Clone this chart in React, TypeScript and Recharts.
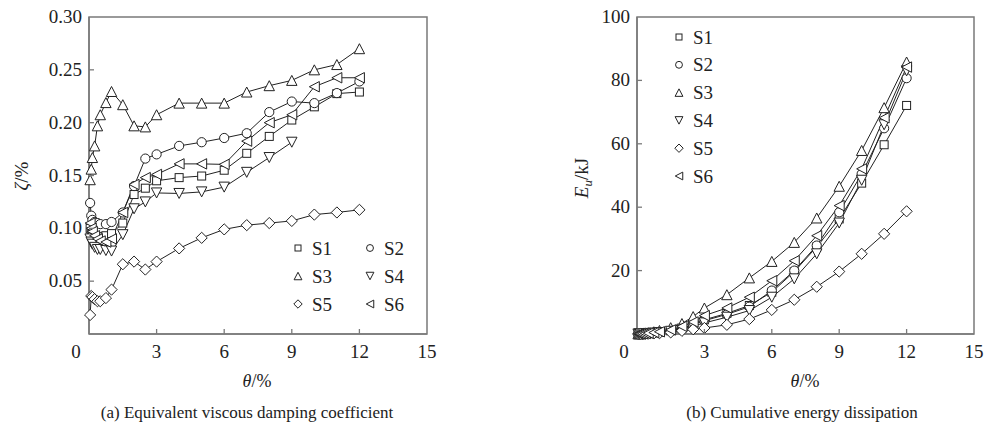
import React from "react";
import { LineChart, Line, XAxis, YAxis, ReferenceArea } from "recharts";

const theta = [0.05, 0.1, 0.15, 0.25, 0.375, 0.5, 0.75, 1, 1.5, 2, 2.5, 3, 4, 5, 6, 7, 8, 9, 10, 11, 12];
const seriesNames = ["S1", "S2", "S3", "S4", "S5", "S6"];
const xTicks = [0, 3, 6, 9, 12, 15];
const zetaTicks = [0.05, 0.1, 0.15, 0.2, 0.25, 0.3];
const energyTicks = [20, 40, 60, 80, 100];

// (a) equivalent viscous damping coefficient
const zetaS1 = [0.1, 0.097, 0.095, 0.093, 0.092, 0.092, 0.093, 0.095, 0.105, 0.132, 0.138, 0.145, 0.148, 0.1495, 0.155, 0.171, 0.187, 0.2025, 0.215, 0.2275, 0.229];
const zetaS2 = [0.124, 0.112, 0.108, 0.106, 0.105, 0.104, 0.104, 0.106, 0.115, 0.14, 0.166, 0.17, 0.178, 0.1815, 0.1855, 0.19, 0.21, 0.22, 0.2185, 0.228, 0.239];
const zetaS3 = [0.146, 0.156, 0.167, 0.178, 0.197, 0.2075, 0.219, 0.2295, 0.217, 0.197, 0.196, 0.2075, 0.2185, 0.2185, 0.2185, 0.229, 0.235, 0.24, 0.25, 0.255, 0.27];
const zetaS4 = [0.09, 0.087, 0.085, 0.082, 0.08, 0.08, 0.079, 0.0785, 0.094, 0.1185, 0.125, 0.1335, 0.133, 0.1345, 0.139, 0.153, 0.167, 0.1815, null, null, null];
const zetaS5 = [0.018, 0.036, 0.035, 0.033, 0.031, 0.031, 0.034, 0.042, 0.066, 0.0685, 0.061, 0.0685, 0.081, 0.091, 0.099, 0.103, 0.105, 0.107, 0.113, 0.115, 0.1175];
const zetaS6 = [0.105, 0.1, 0.097, 0.093, 0.09, 0.088, 0.087, 0.09, 0.115, 0.1415, 0.148, 0.151, 0.161, 0.161, 0.1605, 0.1825, 0.2, 0.2075, 0.234, 0.2425, 0.2425];

// (b) cumulative energy dissipation (kJ)
const energyS1 = [0.02, 0.04, 0.06, 0.1, 0.15, 0.2, 0.35, 0.55, 1.0, 1.8, 3.0, 4.5, 6.5, 9.0, 13.2, 19.7, 27.5, 36.3, 47.6, 59.7, 72.1];
const energyS2 = [0.02, 0.04, 0.07, 0.12, 0.17, 0.25, 0.4, 0.6, 1.1, 1.9, 3.0, 4.2, 6.2, 8.6, 13.7, 20.0, 27.9, 38.4, 50.5, 64.9, 80.7];
const energyS3 = [0.03, 0.06, 0.1, 0.17, 0.25, 0.4, 0.7, 1.1, 2.0, 3.3, 5.5, 8.2, 12.4, 17.7, 22.9, 28.9, 36.6, 46.6, 57.9, 71.4, 85.8];
const energyS4 = [0.02, 0.03, 0.05, 0.09, 0.13, 0.18, 0.3, 0.45, 0.85, 1.5, 2.5, 3.5, 5.3, 7.4, 11.6, 17.4, 25.3, 35.0, 48.5, 66.0, 83.0];
const energyS5 = [0.01, 0.02, 0.03, 0.05, 0.07, 0.1, 0.17, 0.25, 0.5, 1.0, 1.5, 1.9, 2.9, 4.7, 7.6, 10.8, 14.9, 19.7, 25.3, 31.6, 38.7];
const energyS6 = [0.02, 0.04, 0.07, 0.12, 0.18, 0.27, 0.45, 0.7, 1.3, 2.4, 3.8, 5.8, 8.2, 11.6, 16.8, 23.1, 31.0, 40.5, 52.1, 68.2, 84.2];

const zetaSeries = [zetaS1, zetaS2, zetaS3, zetaS4, zetaS5, zetaS6];
const energySeries = [energyS1, energyS2, energyS3, energyS4, energyS5, energyS6];

const buildRows = (series: (number | null)[][]) =>
  theta.map((t, i) => {
    const row: Record<string, number | null> = { theta: t };
    seriesNames.forEach((n, k) => {
      row[n] = series[k][i];
    });
    return row;
  });

const zetaRows = buildRows(zetaSeries);
const energyRows = buildRows(energySeries);

const FONT = "Liberation Serif";
const INK = "#222";
const AXIS = "#7a7a7a";
const shapes = ["square", "circle", "up", "down", "diamond", "left"];
const fs = (size: number, extra: Record<string, any> = {}) => ({ fontFamily: FONT, fontSize: size, ...extra });

function Marker({ kind, cx, cy, s = 1 }: { kind: string; cx: number; cy: number; s?: number }) {
  const common = { fill: "#fff", stroke: INK, strokeWidth: 1 };
  if (kind === "square") {
    const h = 4 * s;
    return <rect x={cx - h} y={cy - h} width={2 * h} height={2 * h} {...common} />;
  }
  if (kind === "circle") return <circle cx={cx} cy={cy} r={4.6 * s} {...common} />;
  if (kind === "up") {
    const w = 5.2 * s, h = 5 * s;
    return <polygon points={`${cx},${cy - h} ${cx + w},${cy + h} ${cx - w},${cy + h}`} {...common} />;
  }
  if (kind === "down") {
    const w = 5.2 * s, h = 5 * s;
    return <polygon points={`${cx},${cy + h} ${cx + w},${cy - h} ${cx - w},${cy - h}`} {...common} />;
  }
  if (kind === "diamond") {
    const h = 5.6 * s;
    return <polygon points={`${cx},${cy - h} ${cx + h},${cy} ${cx},${cy + h} ${cx - h},${cy}`} {...common} />;
  }
  const w = 5 * s, h = 5.2 * s;
  return <polygon points={`${cx - w},${cy} ${cx + w},${cy - h} ${cx + w},${cy + h}`} {...common} />;
}

const makeDot = (kind: string, name: string) => (p: any) => {
  if (p.cx == null || p.cy == null || p.value == null) return <g key={`${name}-${p.index}`} />;
  return (
    <g key={`${name}-${p.index}`}>
      <Marker kind={kind} cx={p.cx} cy={p.cy} />
    </g>
  );
};

const XTick = (p: any) => {
  const v = p.payload.value;
  const dx = v === 0 ? -13 : 0;
  return (
    <g>
      {v !== 0 && v !== 15 && <line x1={p.x} y1={p.y} x2={p.x} y2={p.y - 5} stroke={AXIS} strokeWidth={1.3} />}
      <text x={p.x + dx} y={p.y + 24} textAnchor="middle" fill={INK} style={fs(19)}>
        {v}
      </text>
    </g>
  );
};

const makeYTick = (fmt: (v: number) => string, top: number) => (p: any) => {
  const v = p.payload.value;
  return (
    <g>
      {v !== top && <line x1={p.x} y1={p.y} x2={p.x + 5} y2={p.y} stroke={AXIS} strokeWidth={1.3} />}
      <text x={p.x - 7} y={p.y + 6} textAnchor="end" fill={INK} style={fs(19)}>
        {fmt(v)}
      </text>
    </g>
  );
};

const ZetaTick = makeYTick((v) => v.toFixed(2), 0.3);
const EnergyTick = makeYTick((v) => String(v), 100);

function Panel({ rows, yMax, yTicks, yTick, yWidth, width, marginRight }: any) {
  return (
    <LineChart width={width} height={370} data={rows} margin={{ top: 17, right: marginRight, left: 0, bottom: 0 }}>
      <XAxis
        dataKey="theta"
        type="number"
        domain={[0, 15]}
        ticks={xTicks}
        height={36}
        tickSize={0}
        tickMargin={0}
        tick={XTick}
        tickLine={false}
        axisLine={{ stroke: AXIS, strokeWidth: 1.5 }}
        interval={0}
      />
      <YAxis
        type="number"
        domain={[0, yMax]}
        ticks={yTicks}
        width={yWidth}
        tickSize={0}
        tickMargin={0}
        tick={yTick}
        tickLine={false}
        axisLine={{ stroke: AXIS, strokeWidth: 1.5 }}
        interval={0}
      />
      <ReferenceArea x1={0} x2={15} y1={0} y2={yMax} fill="none" stroke={AXIS} strokeWidth={1.5} ifOverflow="visible" />
      {seriesNames.map((n, k) => (
        <Line
          key={n}
          dataKey={n}
          stroke={INK}
          strokeWidth={1}
          dot={makeDot(shapes[k], n)}
          activeDot={false}
          isAnimationActive={false}
          connectNulls={false}
        />
      ))}
    </LineChart>
  );
}

export default function App() {
  return (
    <div style={{ position: "fixed", left: 0, top: 0, width: 986, height: 430, background: "#fff", overflow: "hidden" }}>
      <div style={{ position: "absolute", left: 0, top: 0 }}>
        <Panel rows={zetaRows} yMax={0.3} yTicks={zetaTicks} yTick={ZetaTick} yWidth={89} width={440} marginRight={13} />
      </div>
      <div style={{ position: "absolute", left: 540, top: 0 }}>
        <Panel rows={energyRows} yMax={100} yTicks={energyTicks} yTick={EnergyTick} yWidth={97} width={446} marginRight={12} />
      </div>
      <svg width={986} height={430} style={{ position: "absolute", left: 0, top: 0, pointerEvents: "none" }}>
        {/* legend (a) */}
        {seriesNames.map((n, k) => {
          const col = k % 2;
          const row = Math.floor(k / 2);
          const mx = col === 0 ? 298 : 370;
          const my = 248 + row * 28;
          return (
            <g key={`la-${n}`}>
              <Marker kind={shapes[k]} cx={mx} cy={my} s={0.75} />
              <text x={mx + 14} y={my + 6.5} fill={INK} style={fs(19)}>
                {n}
              </text>
            </g>
          );
        })}
        {/* legend (b) */}
        {seriesNames.map((n, k) => {
          const mx = 679;
          const my = 37 + k * 27.8;
          return (
            <g key={`lb-${n}`}>
              <Marker kind={shapes[k]} cx={mx} cy={my} s={0.75} />
              <text x={mx + 14} y={my + 6.5} fill={INK} style={fs(19)}>
                {n}
              </text>
            </g>
          );
        })}
        {/* axis titles */}
        <text x={257} y={387} textAnchor="middle" fill={INK} style={fs(18)}>
          <tspan style={{ fontStyle: "italic" }}>θ</tspan>/%
        </text>
        <text x={805} y={387} textAnchor="middle" fill={INK} style={fs(18)}>
          <tspan style={{ fontStyle: "italic" }}>θ</tspan>/%
        </text>
        <text transform="translate(28,176) rotate(-90)" textAnchor="middle" fill={INK} style={fs(19)}>
          <tspan style={{ fontStyle: "italic" }}>ζ</tspan>/%
        </text>
        <text transform="translate(588,178) rotate(-90)" textAnchor="middle" fill={INK} style={fs(19)}>
          <tspan style={{ fontStyle: "italic" }}>E</tspan>
          <tspan style={{ fontStyle: "italic", fontSize: 13 }} dy={4}>u</tspan>
          <tspan dy={-4}>/kJ</tspan>
        </text>
        {/* captions */}
        <text x={247} y={418} textAnchor="middle" fill={INK} style={fs(17)}>
          (a) Equivalent viscous damping coefficient
        </text>
        <text x={802} y={418} textAnchor="middle" fill={INK} style={fs(17)}>
          (b) Cumulative energy dissipation
        </text>
      </svg>
    </div>
  );
}
